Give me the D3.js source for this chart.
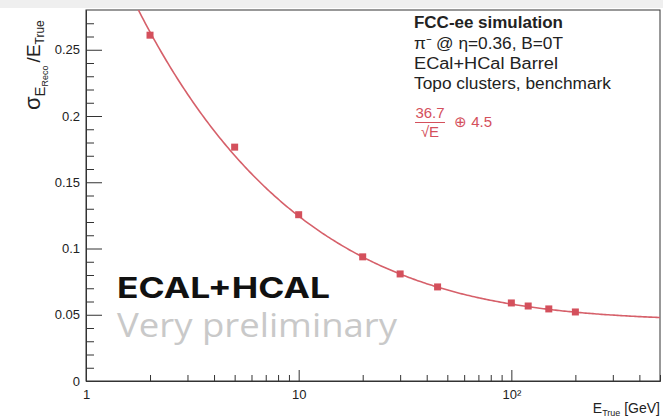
<!DOCTYPE html>
<html>
<head>
<meta charset="utf-8">
<script src="https://cdn.jsdelivr.net/npm/d3@7"></script>
<style>
  html, body { margin: 0; padding: 0; background: #fff; }
  svg { display: block; font-family: "Liberation Sans", Arial, sans-serif; }
</style>
</head>
<body>
<svg id="chart" width="663" height="420"></svg>
<script>
// ---- data ----
const energies   = [2, 5, 10, 20, 30, 45, 100, 120, 150, 200];
const resolution = [0.261, 0.1765, 0.1255, 0.0937, 0.0808, 0.0710, 0.0589, 0.0566, 0.0544, 0.0521];
const fitStochastic = 36.7;   // % sqrt(GeV)
const fitConstant   = 4.5;    // %
const yTicks      = [0, 0.05, 0.1, 0.15, 0.2, 0.25];
const yTickLabels = ["0", "0.05", "0.1", "0.15", "0.2", "0.25"];
const yMinorTicks = [0.01,0.02,0.03,0.04,0.06,0.07,0.08,0.09,0.11,0.12,0.13,0.14,0.16,0.17,0.18,0.19,0.21,0.22,0.23,0.24,0.26,0.27];
const xTicks      = [1, 10, 100];
const xTickLabels = ["1", "10", "10²"];
const xMinorTicks = [2,3,4,5,6,7,8,9,20,30,40,50,60,70,80,90,200,300,400,500];
const legendTitle = "FCC-ee simulation";
const legendLines = ["π⁻ @ η=0.36, B=0T", "ECal+HCal Barrel", "Topo clusters, benchmark"];

// ---- layout ----
const svg = d3.select("#chart");
const L = 86, R = 660, T = 10, B = 381;
const x = d3.scaleLog().domain([1, 500]).range([L, R]);
const y = d3.scaleLinear().domain([0, 0.28]).range([B, T]);

const red = "#d4505c", lineRed = "#d6606a", ink = "#222";

// top grey strip
svg.append("rect").attr("x", 0).attr("y", 0).attr("width", 663).attr("height", 8).attr("fill", "#efefef");

// frame
svg.append("rect").attr("x", L).attr("y", T).attr("width", R - L).attr("height", B - T)
  .attr("fill", "none").attr("stroke", "#333").attr("stroke-width", 1);

// y axis
const yAxis = d3.axisLeft(y).tickValues(yTicks)
  .tickFormat((d, i) => yTickLabels[i]).tickSizeInner(-16).tickSizeOuter(0).tickPadding(6);
const gy = svg.append("g").attr("transform", `translate(${L},0)`).call(yAxis);
const yMinor = d3.axisLeft(y).tickValues(yMinorTicks).tickFormat("").tickSizeInner(-8).tickSizeOuter(0);
const gym = svg.append("g").attr("transform", `translate(${L},0)`).call(yMinor);

// x axis
const xAxis = d3.axisBottom(x).tickValues(xTicks)
  .tickFormat((d, i) => xTickLabels[i]).tickSizeInner(-11).tickSizeOuter(0).tickPadding(9);
const gx = svg.append("g").attr("transform", `translate(0,${B})`).call(xAxis);
const xMinor = d3.axisBottom(x).tickValues(xMinorTicks).tickFormat("").tickSizeInner(-6).tickSizeOuter(0);
const gxm = svg.append("g").attr("transform", `translate(0,${B})`).call(xMinor);

[gy, gym, gx, gxm].forEach(g => {
  g.select(".domain").attr("stroke", "#333");
  g.selectAll(".tick line").attr("stroke", "#333");
  g.selectAll("text").attr("fill", ink).style("font-size", "13px").style("font-family", "Liberation Sans, Arial, sans-serif");
});

// fit curve
svg.append("clipPath").attr("id", "clip").append("rect")
  .attr("x", L).attr("y", T).attr("width", R - L).attr("height", B - T);
const curveE = d3.range(0, 301).map(i => Math.pow(10, Math.log10(1.6) + i * (Math.log10(500) - Math.log10(1.6)) / 300));
const fitVal = e => Math.sqrt(Math.pow(fitStochastic / Math.sqrt(e), 2) + fitConstant * fitConstant) / 100;
svg.append("path").attr("clip-path", "url(#clip)")
  .attr("d", d3.line().x(e => x(e)).y(e => y(fitVal(e)))(curveE))
  .attr("fill", "none").attr("stroke", lineRed).attr("stroke-width", 1.6);

// markers
const ms = 7;
svg.append("g").selectAll("rect").data(energies).join("rect")
  .attr("x", (d) => x(d) - ms / 2)
  .attr("y", (d, i) => y(resolution[i]) - ms / 2)
  .attr("width", ms).attr("height", ms).attr("fill", red);

// legend text
const lg = svg.append("g").attr("fill", ink);
lg.append("text").attr("x", 414).attr("y", 28).attr("font-weight", "bold").attr("font-size", 16)
  .attr("textLength", 149).attr("lengthAdjust", "spacingAndGlyphs").text(legendTitle);
const legendWidths = [149, 144, 197];
legendLines.forEach((s, i) => {
  lg.append("text").attr("x", 414).attr("y", 49 + i * 20).attr("font-size", 16)
    .attr("textLength", legendWidths[i]).attr("lengthAdjust", "spacingAndGlyphs").text(s);
});

// formula
const fg = svg.append("g").attr("fill", red);
fg.append("text").attr("x", 430).attr("y", 118).attr("text-anchor", "middle").attr("font-size", 15).text(String(fitStochastic));
fg.append("line").attr("x1", 415).attr("x2", 445).attr("y1", 122.5).attr("y2", 122.5).attr("stroke", red).attr("stroke-width", 1);
fg.append("text").attr("x", 430).attr("y", 137).attr("text-anchor", "middle").attr("font-size", 15).text("√E");
fg.append("text").attr("x", 454).attr("y", 127).attr("font-size", 15).text("⊕ " + fitConstant);

// overlay texts
svg.append("text").attr("x", 117).attr("y", 298).attr("font-family", "Inter, 'Open Sans', sans-serif")
  .attr("font-weight", 700).attr("font-size", 29).attr("fill", "#111")
  .attr("textLength", 213).attr("lengthAdjust", "spacingAndGlyphs").text("ECAL+HCAL");
svg.append("text").attr("x", 117).attr("y", 337).attr("font-family", "'Open Sans', Lato, sans-serif")
  .attr("font-size", 33).attr("fill", "#c9c9c9")
  .attr("textLength", 280).attr("lengthAdjust", "spacingAndGlyphs").text("Very preliminary");

// y title
const yt = svg.append("text").attr("transform", "translate(40,110) rotate(-90)").attr("fill", ink);
yt.append("tspan").attr("font-size", 22).text("σ");
yt.append("tspan").attr("font-size", 15).attr("dy", 5).text("E");
yt.append("tspan").attr("font-size", 9).attr("dy", 3).text("Reco");
yt.append("tspan").attr("font-size", 19).attr("dy", -8).attr("dx", 3).text("/E");
yt.append("tspan").attr("font-size", 12).attr("dy", 4).text("True");

// x title
const xt = svg.append("text").attr("x", 660).attr("y", 413).attr("text-anchor", "end").attr("fill", ink).attr("font-size", 14);
xt.append("tspan").text("E");
xt.append("tspan").attr("font-size", 9).attr("dy", 3).text("True");
xt.append("tspan").attr("dy", -3).text(" [GeV]");
</script>
</body>
</html>
